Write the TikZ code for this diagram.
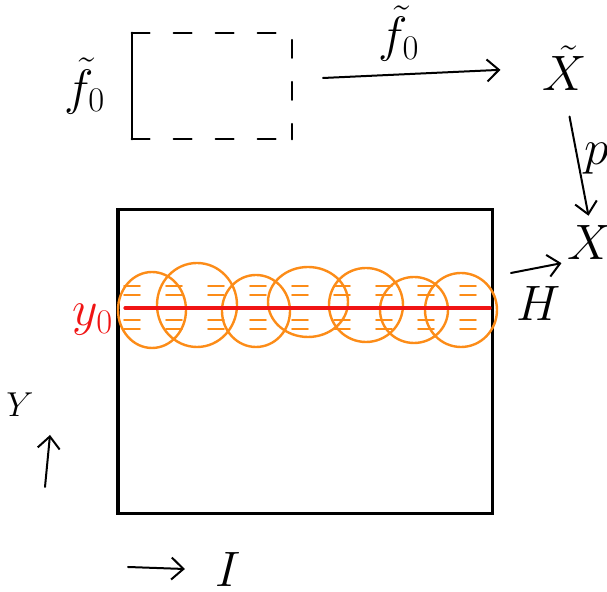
\documentclass[tikz,border=0pt]{standalone}
\usetikzlibrary{arrows.meta, positioning}
\definecolor{pencilorange}{RGB}{252,140,24}
\definecolor{pencilred}{RGB}{240,20,20}
\begin{document}
\begin{tikzpicture}[
    x=0.5pt, y=-0.5pt,
    line cap=round,
    pen/.style={draw=black, line width=1.5pt},
    thinpen/.style={draw=black, line width=1pt},
    dashpen/.style={thinpen, dash pattern=on 9pt off 12pt},
    map/.style={
        thinpen,
        -{Straight Barb[length=6pt,width=11pt]}
    },
    glyph/.style={inner sep=1pt, font=\fontsize{26}{26}\selectfont},
    smallglyph/.style={inner sep=1pt, font=\fontsize{18}{18}\selectfont},
    blob/.style={draw=pencilorange, line width=1.2pt},
    band/.style={draw=pencilorange, line width=0.8pt, dash pattern=on 8pt off 13pt}
]

\useasboundingbox (0,0) rectangle (607,592);

% --- TOP FRAME ------------------------------------------------

\node[minimum width=80pt, minimum height=53pt, inner sep=0pt] (frame) at (212,86) {};
\draw[thinpen] (frame.north west) -- (frame.south west);
\draw[dashpen] (frame.north west) -- (frame.north east) -- (frame.south east);
\draw[dashpen] (frame.south west) -- (frame.south east);
\node[glyph, left=12pt of frame] (fleft) {$\tilde{f}_0$};

% --- SPACES ---------------------------------------------------

\node[glyph] (Xt) at (565,68) {$\tilde{X}$};
\node[glyph] (X) at (590,243) {$X$};

% --- MAPS -----------------------------------------------------

\coordinate (fstart) at (323,78);
\draw[map, shorten >=20pt] (fstart) -- node[glyph, pos=0.35, above=5pt] {$\tilde{f}_0$} (Xt.west);
\draw[map, shorten <=12pt, shorten >=4pt] (Xt.south) -- node[glyph, midway, right=2pt] {$p$} (X.north);

\coordinate (hfoot) at (511,273);
\draw[map, shorten >=2pt] (hfoot) -- node[glyph, midway, below=8pt] {$H$} (X.south west);

% --- CHART ----------------------------------------------------

\node[pen, minimum width=187pt, minimum height=152pt, inner sep=0pt] (chart) at (305,362) {};

\foreach \row in {286, 295, 320, 329}
    \draw[band] (124,\row) -- (488,\row);

\foreach \cx/\cy/\rx/\ry in {152/310/34/38, 197/305/40/42, 256/311/34/36,
                            308/302/40/35, 366/305/37/37, 414/310/34/33, 461/310/36/37}
    \draw[blob] (\cx,\cy) ellipse [x radius=\rx, y radius=\ry];

\draw[draw=pencilred, line width=1.6pt] (125,308) -- (490,308);
\node[glyph, text=pencilred] (ylevel) at (93,320) {$y_0$};

% --- AXES -----------------------------------------------------

\node[smallglyph] (Ylab) at (20,405) {$Y$};
\coordinate (yfoot) at (45,487);
\coordinate (ytip) at (50,435);
\draw[map] (yfoot) -- (ytip);

\node[glyph] (Ilab) at (228,570) {$I$};
\coordinate (ifoot) at (128,567);
\draw[map, shorten >=14pt] (ifoot) -- (Ilab.west);

\end{tikzpicture}
\end{document}
